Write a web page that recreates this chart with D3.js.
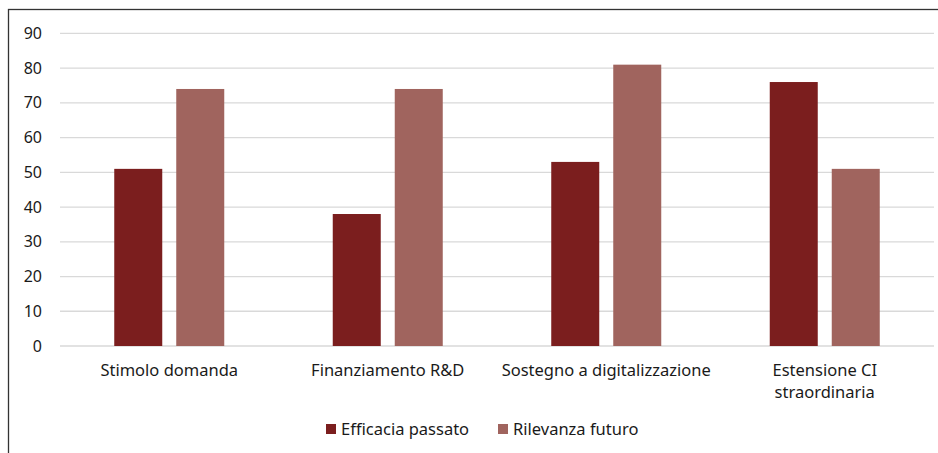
<!DOCTYPE html>
<html>
<head>
<meta charset="utf-8">
<script src="https://cdn.jsdelivr.net/npm/d3@7"></script>
<style>
  body { margin: 0; background: #fff; }
  text { font-family: "Source Sans Pro", "Noto Sans", sans-serif; fill: #1a1a1a; }
</style>
</head>
<body>
<div id="chart"></div>
<script>
let categories = [["Stimolo domanda"], ["Finanziamento R&D"], ["Sostegno a digitalizzazione"], ["Estensione CI", "straordinaria"]];
let seriesNames = ["Efficacia passato", "Rilevanza futuro"];
let efficaciaPassato = [51, 38, 53, 76];
let rilevanzaFuturo = [74, 74, 81, 51];
let yTicks = [0, 10, 20, 30, 40, 50, 60, 70, 80, 90];
let palette = ["#7B1E1E", "#A0645E"];

let W = 938, H = 453;
let margin = {top: 33.4, left: 60, right: 4, bottom: 107};
let width = W - margin.left - margin.right,
    height = H - margin.top - margin.bottom;

let svg = d3.select("#chart").append("svg")
  .attr("width", W).attr("height", H);

// outer frame
svg.append("rect")
  .attr("x", 8.5).attr("y", 9.5)
  .attr("width", W + 20).attr("height", H + 20)
  .attr("fill", "none").attr("stroke", "#333").attr("stroke-width", 1.3);

let g = svg.append("g").attr("transform", "translate(" + margin.left + "," + margin.top + ")");

let x = d3.scaleBand().domain(d3.range(categories.length)).range([0, width]);
let y = d3.scaleLinear().domain([0, 90]).range([height, 0]);

// gridlines
g.selectAll("line.grid").data(yTicks).enter().append("line")
  .attr("class", "grid")
  .attr("x1", 0).attr("x2", width)
  .attr("y1", d => y(d)).attr("y2", d => y(d))
  .attr("stroke", "#d9d9d9").attr("stroke-width", 1.3);

// y tick labels
g.selectAll("text.ytick").data(yTicks).enter().append("text")
  .attr("class", "ytick")
  .attr("x", -18).attr("y", d => y(d))
  .attr("dy", "0.35em")
  .attr("text-anchor", "end")
  .style("font-size", "16px")
  .text(d => d);

let barW = 48, gap = 14;
let xSub = d3.scaleOrdinal().domain([0, 1]).range([-(barW + gap / 2), gap / 2]);
let seriesData = [efficaciaPassato, rilevanzaFuturo];

seriesData.forEach(function(vals, si) {
  g.selectAll("rect.s" + si).data(vals).enter().append("rect")
    .attr("class", "s" + si)
    .attr("x", (d, i) => x(i) + x.bandwidth() / 2 + xSub(si))
    .attr("y", d => y(d))
    .attr("width", barW)
    .attr("height", d => height - y(d))
    .attr("fill", palette[si]);
});

// category labels
let labels = g.selectAll("text.xlab").data(categories).enter().append("text")
  .attr("class", "xlab")
  .attr("text-anchor", "middle")
  .attr("x", (d, i) => x(i) + x.bandwidth() / 2)
  .attr("y", height + 30)
  .style("font-size", "16.5px");
labels.each(function(lines) {
  d3.select(this).selectAll("tspan").data(lines).enter().append("tspan")
    .attr("x", d3.select(this).attr("x"))
    .attr("dy", (d, i) => i === 0 ? 0 : 22)
    .text(d => d);
});

// legend
let legend = svg.append("g").attr("transform", "translate(326,429)");
let legendX = [0, 172];
seriesNames.forEach(function(name, i) {
  let lg = legend.append("g").attr("transform", "translate(" + legendX[i] + ",0)");
  lg.append("rect").attr("x", 0).attr("y", -5).attr("width", 10).attr("height", 10).attr("fill", palette[i]);
  lg.append("text").attr("x", 15).attr("y", 0).attr("dy", "0.35em")
    .style("font-size", "16.5px").text(name);
});
</script>
</body>
</html>
